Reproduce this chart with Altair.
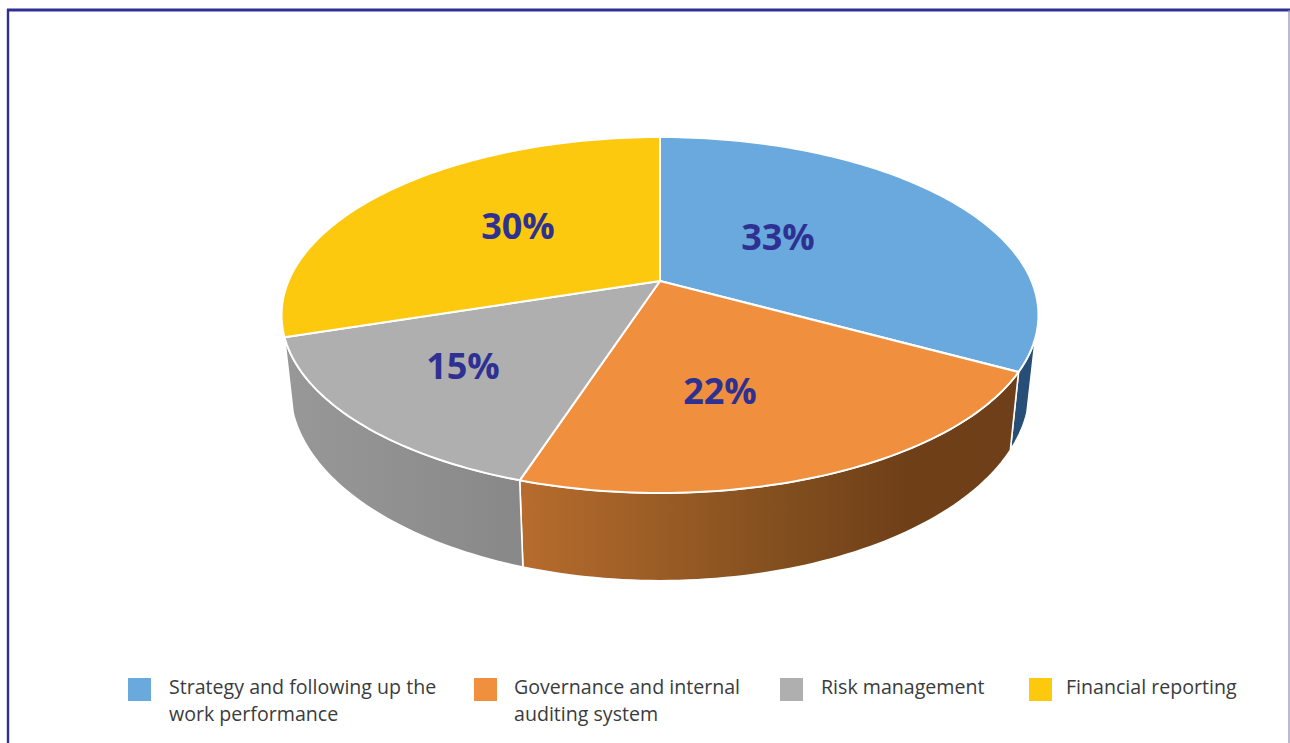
import math
import altair as alt
import pandas as pd

# Survey shares, in pie order, clockwise from twelve o'clock
categories = [
    "Strategy and following up the work performance",
    "Governance and internal auditing system",
    "Risk management",
    "Financial reporting",
]
shares = [33, 22, 15, 30]
legend_lines = [
    ["Strategy and following up the", "work performance"],
    ["Governance and internal", "auditing system"],
    ["Risk management"],
    ["Financial reporting"],
]

TOP_COLORS = ["#69a9dd", "#f08f3e", "#afafaf", "#fdc90f"]
INK = "#2e3192"
TEXT = "#3b3b3d"
W, H = 1290, 743

x_scale = alt.Scale(domain=[0, W], range=[0, W], nice=False, zero=False)
y_scale = alt.Scale(domain=[H, 0], nice=False, zero=False)
X = lambda f="x": alt.X(f"{f}:Q", scale=x_scale, axis=None)
Y = lambda f="y": alt.Y(f"{f}:Q", scale=y_scale, axis=None)

# Perspective projection of the disc: rim and apex of the top and bottom faces
PERSP = 0.191
CX = 660
TOP = dict(cy=281, a=371.5, b=171.5)
BOTTOM = dict(cy=352, a=363, b=185)


def project(face, pct, r=1.0):
    t = 2 * math.pi * pct / 100
    px, py = r * math.sin(t), -r * math.cos(t)
    w = 1 - PERSP * py
    return CX + face["a"] * px / w, face["cy"] + face["b"] * py / w


def arc(face, start, end):
    n = max(2, int(abs(end - start) * 3))
    return [project(face, start + (end - start) * i / n) for i in range(n + 1)]


def polygon(points, fill, stroke="white", width=2.0):
    df = pd.DataFrame(points + points[:1], columns=["x", "y"])
    df["i"] = range(len(df))
    return (
        alt.Chart(df)
        .mark_line(fill=fill, stroke=stroke, strokeWidth=width, strokeJoin="round", interpolate="linear")
        .encode(x=X(), y=Y(), order="i:Q")
    )


def ramp(stops):
    return alt.Gradient(
        gradient="linear", x1=0, x2=1, y1=0, y2=0,
        stops=[alt.GradientStop(offset=o, color=c) for o, c in stops],
    )


edges = [0]
for s in shares:
    edges.append(edges[-1] + s)

# Side walls: only the part of each slice that faces the viewer
BLUE_WALL_START = 30.0
walls = [
    (BLUE_WALL_START, edges[1], "#274e76"),
    (edges[1], edges[2], ramp([(0, "#b76c2d"), (0.5, "#84501f"), (0.78, "#6f3f18"), (1, "#6e3f18")])),
    (edges[2], edges[3], ramp([(0, "#989898"), (1, "#888888")])),
]
layers = []
for start, end, fill in walls:
    layers.append(polygon(arc(TOP, start, end) + arc(BOTTOM, end, start), fill, width=1.6))

# Top faces
for i, color in enumerate(TOP_COLORS):
    pts = [project(TOP, 0, 0)] + arc(TOP, edges[i], edges[i + 1])
    layers.append(polygon(pts, color, width=2.0))

# Percentage labels
label_x = [778, 720, 463, 518]
label_y = [239, 393, 368, 228]
labels = pd.DataFrame({"x": label_x, "y": label_y, "t": [f"{s}%" for s in shares]})
layers.append(
    alt.Chart(labels)
    .mark_text(font="Open Sans", fontWeight="bold", fontSize=36, color=INK, align="center", baseline="middle")
    .encode(x=X(), y=Y(), text="t:N")
)

# Legend
swatch_x = [128, 474, 780, 1029]
text_x = [169, 514, 821, 1066]
swatches = pd.DataFrame(
    {"x": swatch_x, "x2": [v + 23 for v in swatch_x], "y": [678] * 4, "y2": [701] * 4, "c": TOP_COLORS}
)
layers.append(
    alt.Chart(swatches)
    .mark_rect()
    .encode(x=X(), x2="x2:Q", y=Y(), y2="y2:Q", color=alt.Color("c:N", scale=None))
)
rows = []
for tx, lines in zip(text_x, legend_lines):
    for j, line in enumerate(lines):
        rows.append({"x": tx, "y": 694 + 27 * j, "t": line})
layers.append(
    alt.Chart(pd.DataFrame(rows))
    .mark_text(font="Open Sans", fontSize=19.6, color=TEXT, align="left", baseline="alphabetic")
    .encode(x=X(), y=Y(), text="t:N")
)

# Page frame, open at the bottom
frame = pd.DataFrame(
    [
        {"x": 7, "x2": W, "y": 10, "y2": 10, "c": INK, "w": 3},
        {"x": 8, "x2": 8, "y": 9, "y2": H, "c": INK, "w": 2.4},
        {"x": 1289, "x2": 1289, "y": 10, "y2": H, "c": "#8c8cb8", "w": 1.2},
    ]
)
layers.append(
    alt.Chart(frame)
    .mark_rule()
    .encode(
        x=X(), x2="x2:Q", y=Y(), y2="y2:Q",
        color=alt.Color("c:N", scale=None),
        strokeWidth=alt.StrokeWidth("w:Q", scale=None),
    )
)

chart = (
    alt.layer(*layers)
    .properties(width=W, height=H, padding=0, autosize=alt.AutoSizeParams(type="none"), background="white")
    .configure_view(stroke=None)
)
chart.save("out.html", embed_options={"renderer": "svg", "actions": False})
